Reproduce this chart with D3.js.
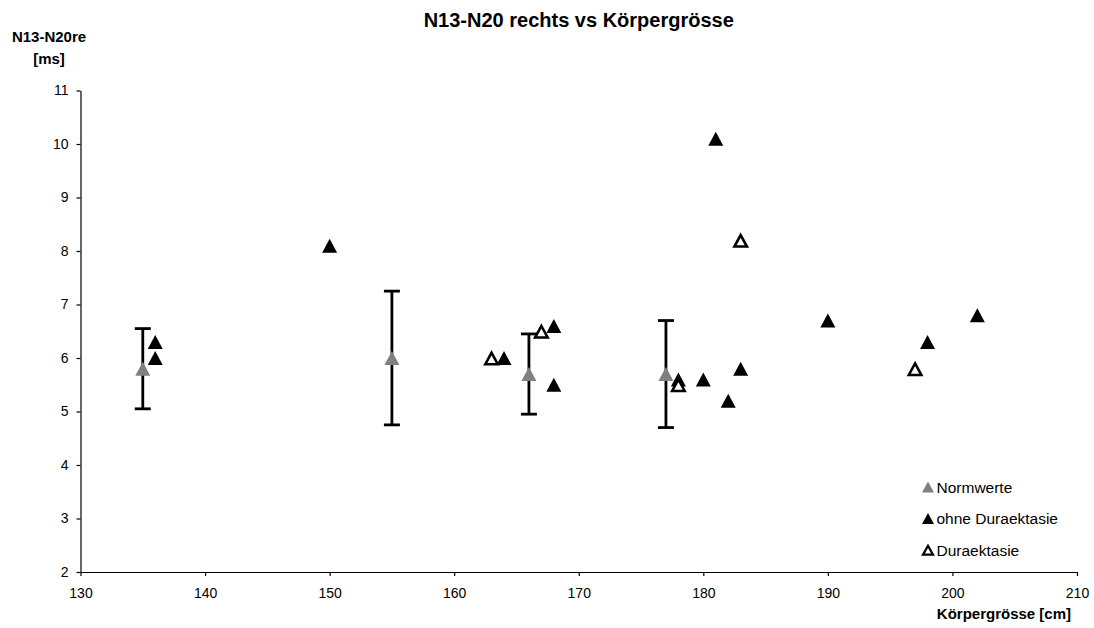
<!DOCTYPE html>
<html>
<head>
<meta charset="utf-8">
<script src="https://cdn.jsdelivr.net/npm/d3@7"></script>
<style>
  html, body { margin: 0; padding: 0; background: #fff; }
  svg { display: block; font-family: "Liberation Sans", Arial, sans-serif; }
</style>
</head>
<body>
<svg id="chart" width="1094" height="628"></svg>
<script>
// Normwerte: mean and standard deviation per height
const normX = [135, 155, 166, 177];
const normY = [5.8, 6.0, 5.7, 5.7];
const normSD = [0.75, 1.25, 0.75, 1.0];

// Patients without dural ectasia
const ohneX = [136, 136, 150, 164, 168, 168, 178, 180, 181, 182, 183, 190, 198, 202];
const ohneY = [6.3, 6.0, 8.1, 6.0, 6.6, 5.5, 5.6, 5.6, 10.1, 5.2, 5.8, 6.7, 6.3, 6.8];

// Patients with dural ectasia
const duraX = [163, 167, 178, 183, 197];
const duraY = [6.0, 6.5, 5.5, 8.2, 5.8];

const xTicks = [130, 140, 150, 160, 170, 180, 190, 200, 210];
const yTicks = [2, 3, 4, 5, 6, 7, 8, 9, 10, 11];

const legendLabels = ["Normwerte", "ohne Duraektasie", "Duraektasie"];

const svg = d3.select("#chart");
const plotLeft = 80.5, plotRight = 1077, plotTop = 90.5, plotBottom = 572;

const x = d3.scaleLinear().domain([130, 210]).range([plotLeft, plotRight]);
const y = d3.scaleLinear().domain([2, 11]).range([plotBottom, plotTop]);

// Title
svg.append("text")
  .attr("x", (plotLeft + plotRight) / 2).attr("y", 27)
  .attr("text-anchor", "middle")
  .attr("font-weight", "bold").attr("font-size", "20px")
  .text("N13-N20 rechts vs Körpergrösse");

// Y-axis title (two lines)
svg.append("text")
  .attr("x", 49).attr("y", 42)
  .attr("text-anchor", "middle")
  .attr("font-weight", "bold").attr("font-size", "15px")
  .text("N13-N20re");
svg.append("text")
  .attr("x", 49).attr("y", 64)
  .attr("text-anchor", "middle")
  .attr("font-weight", "bold").attr("font-size", "15px")
  .text("[ms]");

// X-axis title
svg.append("text")
  .attr("x", 1071).attr("y", 619)
  .attr("text-anchor", "end")
  .attr("font-weight", "bold").attr("font-size", "15px")
  .text("Körpergrösse [cm]");

// Axes
const xAxis = svg.append("g")
  .attr("transform", `translate(0,${plotBottom})`)
  .call(d3.axisBottom(x).tickValues(xTicks).tickSize(4).tickSizeOuter(0).tickPadding(12));
const yAxis = svg.append("g")
  .attr("transform", `translate(${plotLeft},0)`)
  .call(d3.axisLeft(y).tickValues(yTicks).tickSize(4).tickSizeOuter(0).tickPadding(8));

[xAxis, yAxis].forEach(g => {
  g.select(".domain").attr("stroke", "#000").attr("stroke-width", 1.2);
  g.selectAll(".tick line").attr("stroke", "#000").attr("stroke-width", 1.2);
  g.selectAll(".tick text")
    .attr("fill", "#000")
    .attr("font-size", "14px")
    .attr("font-family", "Liberation Sans, Arial, sans-serif");
});

// Triangle path centered in its bounding box
function tri(cx, cy, w, h) {
  return `M${cx},${cy - h / 2}L${cx + w / 2},${cy + h / 2}L${cx - w / 2},${cy + h / 2}Z`;
}

// Error bars for Normwerte
const capW = 8;
const eb = svg.append("g").attr("stroke", "#000").attr("stroke-width", 2.8).attr("fill", "none");
normX.forEach((v, i) => {
  const xi = x(v), y1 = y(normY[i] + normSD[i]), y0 = y(normY[i] - normSD[i]);
  eb.append("line").attr("x1", xi).attr("x2", xi).attr("y1", y1).attr("y2", y0);
  eb.append("line").attr("x1", xi - capW).attr("x2", xi + capW).attr("y1", y1).attr("y2", y1);
  eb.append("line").attr("x1", xi - capW).attr("x2", xi + capW).attr("y1", y0).attr("y2", y0);
});

// Normwerte markers
svg.append("g").selectAll("path")
  .data(normX.map((v, i) => [v, normY[i]]))
  .join("path")
  .attr("d", d => tri(x(d[0]), y(d[1]), 15, 14))
  .attr("fill", "#808080");

// ohne Duraektasie markers
svg.append("g").selectAll("path")
  .data(ohneX.map((v, i) => [v, ohneY[i]]))
  .join("path")
  .attr("d", d => tri(x(d[0]), y(d[1]), 15, 14))
  .attr("fill", "#000");

// Duraektasie markers (open)
svg.append("g").selectAll("path")
  .data(duraX.map((v, i) => [v, duraY[i]]))
  .join("path")
  .attr("d", d => tri(x(d[0]), y(d[1]) + 0.5, 12.5, 11.5))
  .attr("fill", "#fff").attr("stroke", "#000").attr("stroke-width", 2.6)
  .attr("stroke-linejoin", "miter");

// Legend
const legendStyles = [
  { fill: "#808080", stroke: "none", w: 12, h: 11 },
  { fill: "#000", stroke: "none", w: 12, h: 11 },
  { fill: "#fff", stroke: "#000", w: 10, h: 9 }
];
const lg = svg.append("g");
legendLabels.forEach((lab, i) => {
  const cy = 487 + i * 31.6;
  const s = legendStyles[i];
  lg.append("path")
    .attr("d", tri(928, cy, s.w, s.h))
    .attr("fill", s.fill).attr("stroke", s.stroke).attr("stroke-width", 2.2);
  lg.append("text")
    .attr("x", 936.5).attr("y", cy + 5.5)
    .attr("font-size", "15.5px")
    .text(lab);
});
</script>
</body>
</html>
